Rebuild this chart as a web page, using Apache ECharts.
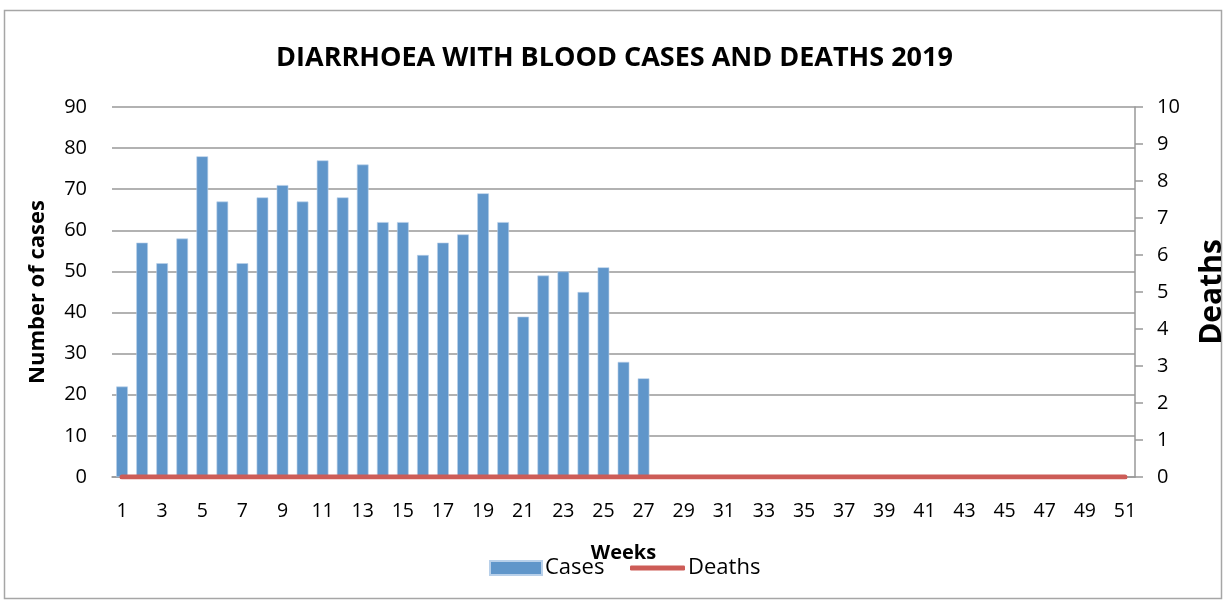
<!DOCTYPE html>
<html><head><meta charset="utf-8">
<script src="https://cdn.jsdelivr.net/npm/echarts@6/dist/echarts.min.js"></script>
<style>html,body{margin:0;padding:0;background:#fff}#c{width:1229px;height:606px}</style>
</head><body><div id="c"></div>
<script>
const weeks = Array.from({length:51},(_,i)=>String(i+1));
const cases = [22,57,52,58,78,67,52,68,71,67,77,68,76,62,62,54,57,59,69,62,39,49,50,45,51,28,24];
const deaths = [0,0,0,0,0,0,0,0,0,0,0,0,0,0,0,0,0,0,0,0,0,0,0,0,0,0,0,0,0,0,0,0,0,0,0,0,0,0,0,0,0,0,0,0,0,0,0,0,0,0,0];
const titleText = 'DIARRHOEA WITH BLOOD CASES AND DEATHS 2019';
const F = '"Open Sans", "Noto Sans", sans-serif';
const chart = echarts.init(document.getElementById('c'));
chart.setOption({
  backgroundColor:'#fff',
  animation:false,
  graphic:[{type:'rect',shape:{x:4.5,y:10.5,width:1217,height:588},style:{fill:'none',stroke:'#a6a6a6',lineWidth:1.5}}],
  title:{text:titleText,left:'center',top:40,textStyle:{fontFamily:F,fontSize:27,fontWeight:'bold',color:'#000'}},
  grid:{left:112,right:94,top:107,bottom:129,outerBoundsMode:'none',containLabel:false},
  legend:[
    {data:['Cases'],left:489,top:557,padding:0,itemWidth:52,itemHeight:14,itemGap:4,icon:'rect',textStyle:{fontFamily:F,fontSize:22,color:'#000',padding:[2,0,0,-2]}},
    {data:['Deaths'],left:630,top:557,padding:0,itemWidth:55,itemHeight:5,icon:'roundRect',textStyle:{fontFamily:F,fontSize:22,color:'#000',padding:[2,0,0,-2]}}
  ],
  xAxis:{type:'category',data:weeks,name:'Weeks',nameLocation:'middle',nameGap:66,
    nameTextStyle:{fontFamily:F,fontSize:20,fontWeight:'bold',color:'#000'},
    axisLine:{lineStyle:{color:'#999',width:1.5}},axisTick:{show:false},
    axisLabel:{interval:1,fontFamily:F,fontSize:19.5,color:'#000',margin:24}},
  yAxis:[
    {type:'value',min:0,max:90,interval:10,name:'Number of cases',nameLocation:'middle',nameGap:63,
     nameTextStyle:{fontFamily:F,fontSize:22,fontWeight:'bold',color:'#000'},
     axisLine:{show:false},axisTick:{show:false},
     axisLabel:{fontFamily:F,fontSize:20,color:'#000',margin:25},
     splitLine:{lineStyle:{color:'#999',width:1.5}}},
    {type:'value',min:0,max:10,interval:1,name:'Deaths',nameLocation:'middle',nameGap:62,nameRotate:90,
     nameTextStyle:{fontFamily:F,fontSize:30,fontWeight:'bold',color:'#000'},
     axisLine:{show:true,lineStyle:{color:'#999',width:1.5}},axisTick:{show:true,length:8,lineStyle:{color:'#999',width:1.5}},
     axisLabel:{fontFamily:F,fontSize:20,color:'#000',margin:22},
     splitLine:{show:false}}
  ],
  series:[
    {name:'Cases',type:'bar',data:cases,yAxisIndex:0,barCategoryGap:'42%',itemStyle:{color:'#6096CA',borderColor:'#b8d0ea',borderWidth:0.6}},
    {name:'Deaths',type:'line',data:deaths,yAxisIndex:1,symbol:'none',lineStyle:{color:'#CD5C57',width:5,cap:'round'},itemStyle:{color:'#CD5C57'}}
  ]
});
</script></body></html>
